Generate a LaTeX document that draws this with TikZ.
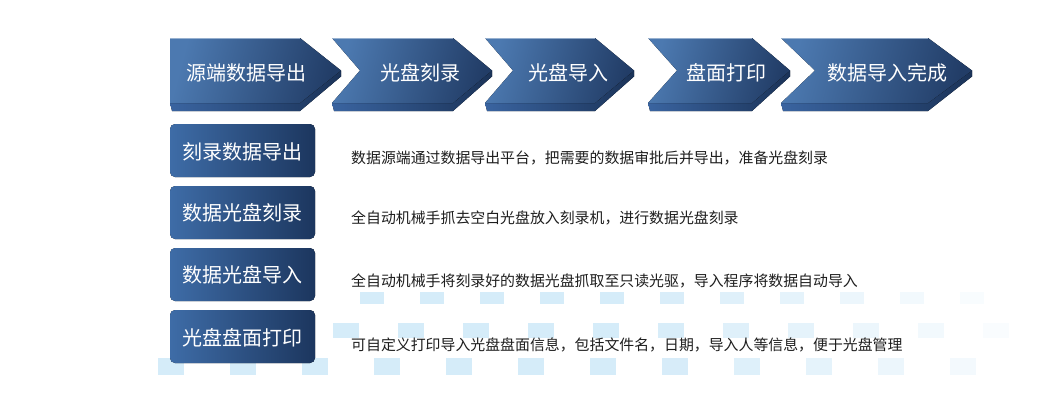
\documentclass[tikz,border=0pt]{standalone}
\usepackage{fontspec}
\setmainfont{Noto Sans CJK SC}
\definecolor{faceL}{HTML}{4C79B0}
\definecolor{faceR}{HTML}{223D67}
\definecolor{sideL}{HTML}{3A64A0}
\definecolor{sideR}{HTML}{1B3358}
\definecolor{boxL}{HTML}{3E6CA7}
\definecolor{boxR}{HTML}{1C365E}
\definecolor{sq}{HTML}{D5ECF9}
\definecolor{desc}{HTML}{1E1E1E}
\newcommand\mychev[4]{%
  \fill[left color=sideL,right color=sideR] (#1,103) -- (#3,103) -- (#4,70.5) -- (#4,76.5) -- (#3,111) -- (#1+2,111) -- cycle;
  \fill[left color=faceL,right color=faceR,shading angle=75] (#1,38) -- (#3,38) -- (#4,70.5) -- (#3,103) -- (#1,103) -- (#2,70.5) -- cycle;
  \draw[white!60!faceL,line width=0.6pt,opacity=0.7] (#1,38.3) -- (#3,38.3);
}
\begin{document}
\begin{tikzpicture}[x=1pt,y=-1pt,
  chevtext/.style={text=white,font=\fontsize{20}{24}\selectfont,inner sep=0pt},
  boxtext/.style={text=white,font=\fontsize{20}{24}\selectfont,inner sep=0pt},
  desctext/.style={text=desc,font=\fontsize{14.9}{18}\selectfont,anchor=west,inner sep=0pt},
  bluebox/.style={left color=boxL,right color=boxR,rounded corners=5pt},
]
\useasboundingbox (0,0) rectangle (1044,408);
\fill[white] (0,0) rectangle (1044,408);
% background squares
\foreach \x in {360,420,...,960}{
  \pgfmathsetmacro\op{min(1,max(0.12,1-(\x-620)/400))}
  \fill[sq,opacity=\op] (\x,292) rectangle ++(24,12);
}
\foreach \x in {333,398,...,990}{
  \pgfmathsetmacro\op{min(1,max(0.12,1-(\x-620)/420))}
  \fill[sq,opacity=\op] (\x,323) rectangle ++(26,15);
}
\foreach \x in {158,230,...,960}{
  \pgfmathsetmacro\op{min(1,max(0.15,1-(\x-640)/430))}
  \fill[sq,opacity=\op] (\x,358) rectangle ++(26,17);
}
% chevrons
\mychev{170}{170}{300}{341}
\mychev{332}{360}{453}{492}
\mychev{485}{513}{595}{634}
\mychev{648}{677}{752}{790}
\mychev{781}{815}{928}{972}
\node[chevtext] (c1) at (246,73) {源端数据导出};
\node[chevtext] (c2) at (420,73) {光盘刻录};
\node[chevtext] (c3) at (568,73) {光盘导入};
\node[chevtext] (c4) at (726,73) {盘面打印};
\node[chevtext] (c5) at (887,73) {数据导入完成};
% boxes
\fill[bluebox] (170,124) rectangle (315,177);
\fill[bluebox] (170,186) rectangle (315,239);
\fill[bluebox] (170,248) rectangle (315,301);
\fill[bluebox] (170,310) rectangle (315,363);
\node[boxtext] (b1) at (242.5,152) {刻录数据导出};
\node[boxtext] (b2) at (242.5,213) {数据光盘刻录};
\node[boxtext] (b3) at (242.5,275) {数据光盘导入};
\node[boxtext] (b4) at (242.5,338) {光盘盘面打印};
% descriptions
\node[desctext] (d1) at (351,158) {数据源端通过数据导出平台，把需要的数据审批后并导出，准备光盘刻录};
\node[desctext] (d2) at (351,218) {全自动机械手抓去空白光盘放入刻录机，进行数据光盘刻录};
\node[desctext] (d3) at (351,281) {全自动机械手将刻录好的数据光盘抓取至只读光驱，导入程序将数据自动导入};
\node[desctext] (d4) at (351,345) {可自定义打印导入光盘盘面信息，包括文件名，日期，导入人等信息，便于光盘管理};
\end{tikzpicture}
\end{document}
